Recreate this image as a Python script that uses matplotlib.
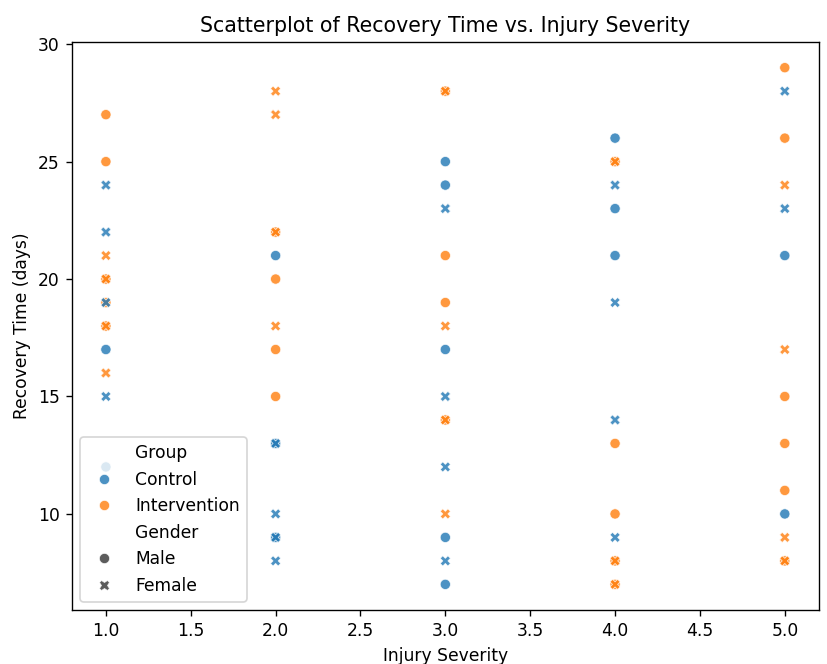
import matplotlib
matplotlib.use("Agg")
import matplotlib.pyplot as plt
import pandas as pd
import seaborn as sns

# values (overlapping points listed twice)
severity = [1, 1, 1, 1, 1, 1, 1, 1, 1, 1, 1, 1, 1, 1, 1,
            2, 2, 2, 2, 2, 2, 2, 2, 2, 2, 2, 2, 2, 2, 2,
            3, 3, 3, 3, 3, 3, 3, 3, 3, 3, 3, 3, 3, 3, 3, 3, 3,
            4, 4, 4, 4, 4, 4, 4, 4, 4, 4, 4, 4, 4, 4, 4,
            5, 5, 5, 5, 5, 5, 5, 5, 5, 5, 5, 5, 5, 5]
recovery = [27, 25, 24, 22, 21, 20, 20, 19, 19, 18, 18, 17, 16, 15, 12,
            28, 27, 22, 22, 21, 20, 18, 17, 15, 13, 13, 10, 9, 9, 8,
            28, 28, 25, 24, 23, 21, 19, 18, 17, 15, 14, 14, 12, 10, 9, 8, 7,
            26, 25, 25, 24, 23, 21, 19, 14, 13, 10, 9, 8, 8, 7, 7,
            29, 28, 26, 24, 23, 21, 17, 15, 13, 11, 10, 9, 8, 8]
group = list("IICCIIIICIICICC"
             "IIIICIIIICCCCCC"
             "IICCCIIICCIICICCC"
             "CIICCCCCIICIIII"
             "ICIICCIIIICIII")
gender = list("MMFFFMFMFMFMFFM"
              "FFMFMMFMMMFFMFF"
              "MFMMFMMFMFMFFFMFM"
              "MMFFMMFFMMFMFMF"
              "MFMFFMFMMMMFMF")

names = {"C": "Control", "I": "Intervention", "M": "Male", "F": "Female"}
df = pd.DataFrame({
    "Injury Severity": severity,
    "Recovery Time (days)": recovery,
    "Group": [names[g] for g in group],
    "Gender": [names[g] for g in gender],
})

# drawn at a higher dpi so text and markers come out a bit larger
fig, ax = plt.subplots(figsize=(827 / 123, 664 / 123), dpi=123)
sns.scatterplot(data=df, x="Injury Severity", y="Recovery Time (days)",
                hue="Group", style="Gender",
                hue_order=["Control", "Intervention"],
                style_order=["Male", "Female"],
                alpha=0.8, ax=ax)
ax.set_title("Scatterplot of Recovery Time vs. Injury Severity", fontsize=12)
ax.legend(loc="lower left")
plt.subplots_adjust(left=0.087, right=0.99, top=0.937, bottom=0.081)
plt.savefig("out.png")
